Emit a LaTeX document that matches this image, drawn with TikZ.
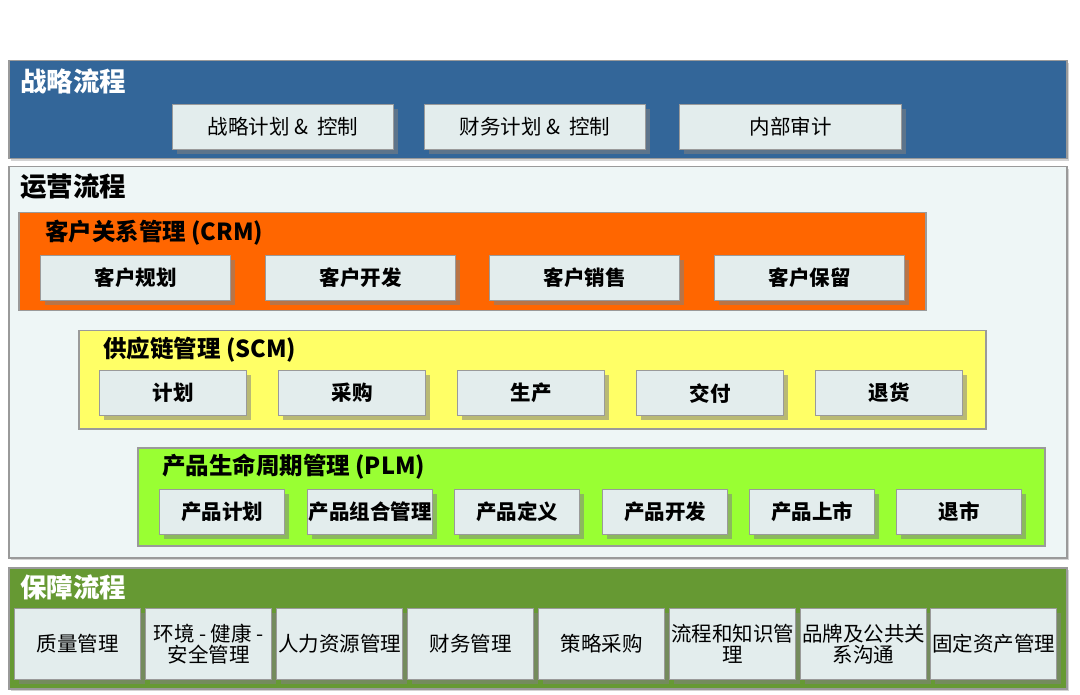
\documentclass[tikz,border=0pt]{standalone}
\usepackage{fontspec}
\setmainfont{Noto Sans CJK SC}
\usepackage{xcolor}
\usetikzlibrary{positioning, shadows}

\definecolor{stratblue}{HTML}{336699}
\definecolor{opsbg}{HTML}{EEF6F6}
\definecolor{crmorange}{HTML}{FF6600}
\definecolor{scmyellow}{HTML}{FFFF66}
\definecolor{plmlime}{HTML}{99FF33}
\definecolor{supgreen}{HTML}{669933}
\definecolor{boxfill}{HTML}{E3EDED}
\definecolor{edgegray}{HTML}{9A9A9A}

\begin{document}
\begin{tikzpicture}[
    x=1pt, y=-1pt,
    band/.style={
        rectangle, draw=edgegray, line width=1.5pt, anchor=north west,
        inner sep=0pt, drop shadow={shadow xshift=2pt, shadow yshift=-2pt, opacity=0.35}
    },
    group/.style={
        rectangle, draw=edgegray, line width=1.5pt, anchor=north west,
        inner sep=0pt, minimum width=907pt, minimum height=98pt
    },
    title/.style={anchor=west, inner sep=0pt, font=\fontsize{26.5}{30}\selectfont\bfseries},
    subtitle/.style={anchor=west, inner sep=0pt, font=\fontsize{23.5}{27}\selectfont\bfseries},
    task/.style={
        rectangle, draw=edgegray, line width=1.2pt, fill=boxfill, anchor=north west,
        inner sep=0pt, align=center, minimum height=45pt,
        drop shadow={shadow xshift=4pt, shadow yshift=-4pt, opacity=0.55},
        font=\fontsize{20.5}{23}\selectfont
    },
    keytask/.style={task, font=\fontsize{20.5}{23}\selectfont\bfseries},
    support/.style={task, minimum width=126pt, minimum height=71pt,
        font=\fontsize{20.5}{21}\selectfont}
]
\useasboundingbox (0,0) rectangle (1080,695);

% 1. Strategic processes (top band)
\node[band, fill=stratblue, minimum width=1058pt, minimum height=98pt] (strat) at (8,60) {};
\node[title, text=white] (strattitle) at (20,81) {战略流程};
\node[task, minimum width=221pt] (plan) at (172,104) {战略计划\ \& \ 控制};
\node[task, minimum width=221pt] (fin) at (424,104) {财务计划\ \& \ 控制};
\node[task, minimum width=222pt] (audit) at (679,104) {内部审计};

% 2. Operational processes (middle band)
\node[band, fill=opsbg, minimum width=1058pt, minimum height=391pt] (ops) at (8,166) {};
\node[title] (opstitle) at (20,187) {运营流程};

% CRM
\node[group, fill=crmorange] (crm) at (18,212) {};
\node[subtitle] (crmtitle) at (45,233) {客户关系管理 (CRM)};
\node[keytask, minimum width=190pt] (crm1) at (40,255) {客户规划};
\node[keytask, minimum width=190pt] (crm2) at (265,255) {客户开发};
\node[keytask, minimum width=190pt] (crm3) at (489,255) {客户销售};
\node[keytask, minimum width=190pt] (crm4) at (714,255) {客户保留};

% SCM
\node[group, fill=scmyellow] (scm) at (78,330) {};
\node[subtitle] (scmtitle) at (103,350) {供应链管理 (SCM)};
\node[keytask, minimum width=147pt] (scm1) at (99,370) {计划};
\node[keytask, minimum width=147pt] (scm2) at (278,370) {采购};
\node[keytask, minimum width=147pt] (scm3) at (457,370) {生产};
\node[keytask, minimum width=147pt] (scm4) at (636,370) {交付};
\node[keytask, minimum width=147pt] (scm5) at (815,370) {退货};

% PLM
\node[group, fill=plmlime] (plm) at (137,447) {};
\node[subtitle] (plmtitle) at (162,467) {产品生命周期管理 (PLM)};
\node[keytask, minimum width=125pt] (plm1) at (159,489) {产品计划};
\node[keytask, minimum width=125pt] (plm2) at (307,489) {产品组合管理};
\node[keytask, minimum width=125pt] (plm3) at (454,489) {产品定义};
\node[keytask, minimum width=125pt] (plm4) at (602,489) {产品开发};
\node[keytask, minimum width=125pt] (plm5) at (749,489) {产品上市};
\node[keytask, minimum width=125pt] (plm6) at (896,489) {退市};

% 3. Support processes (bottom band)
\node[band, fill=supgreen, minimum width=1058pt, minimum height=121pt] (sup) at (8,567) {};
\node[title, text=white] (suptitle) at (20,587) {保障流程};
\node[support] (sup1) at (14,608) {质量管理};
\node[support] (sup2) at (145,608) {环境 - 健康 -\\安全管理};
\node[support] (sup3) at (276,608) {人力资源管理};
\node[support] (sup4) at (407,608) {财务管理};
\node[support] (sup5) at (538,608) {策略采购};
\node[support] (sup6) at (669,608) {流程和知识管\\理};
\node[support] (sup7) at (800,608) {品牌及公共关\\系沟通};
\node[support] (sup8) at (930,608) {固定资产管理};

\end{tikzpicture}
\end{document}
